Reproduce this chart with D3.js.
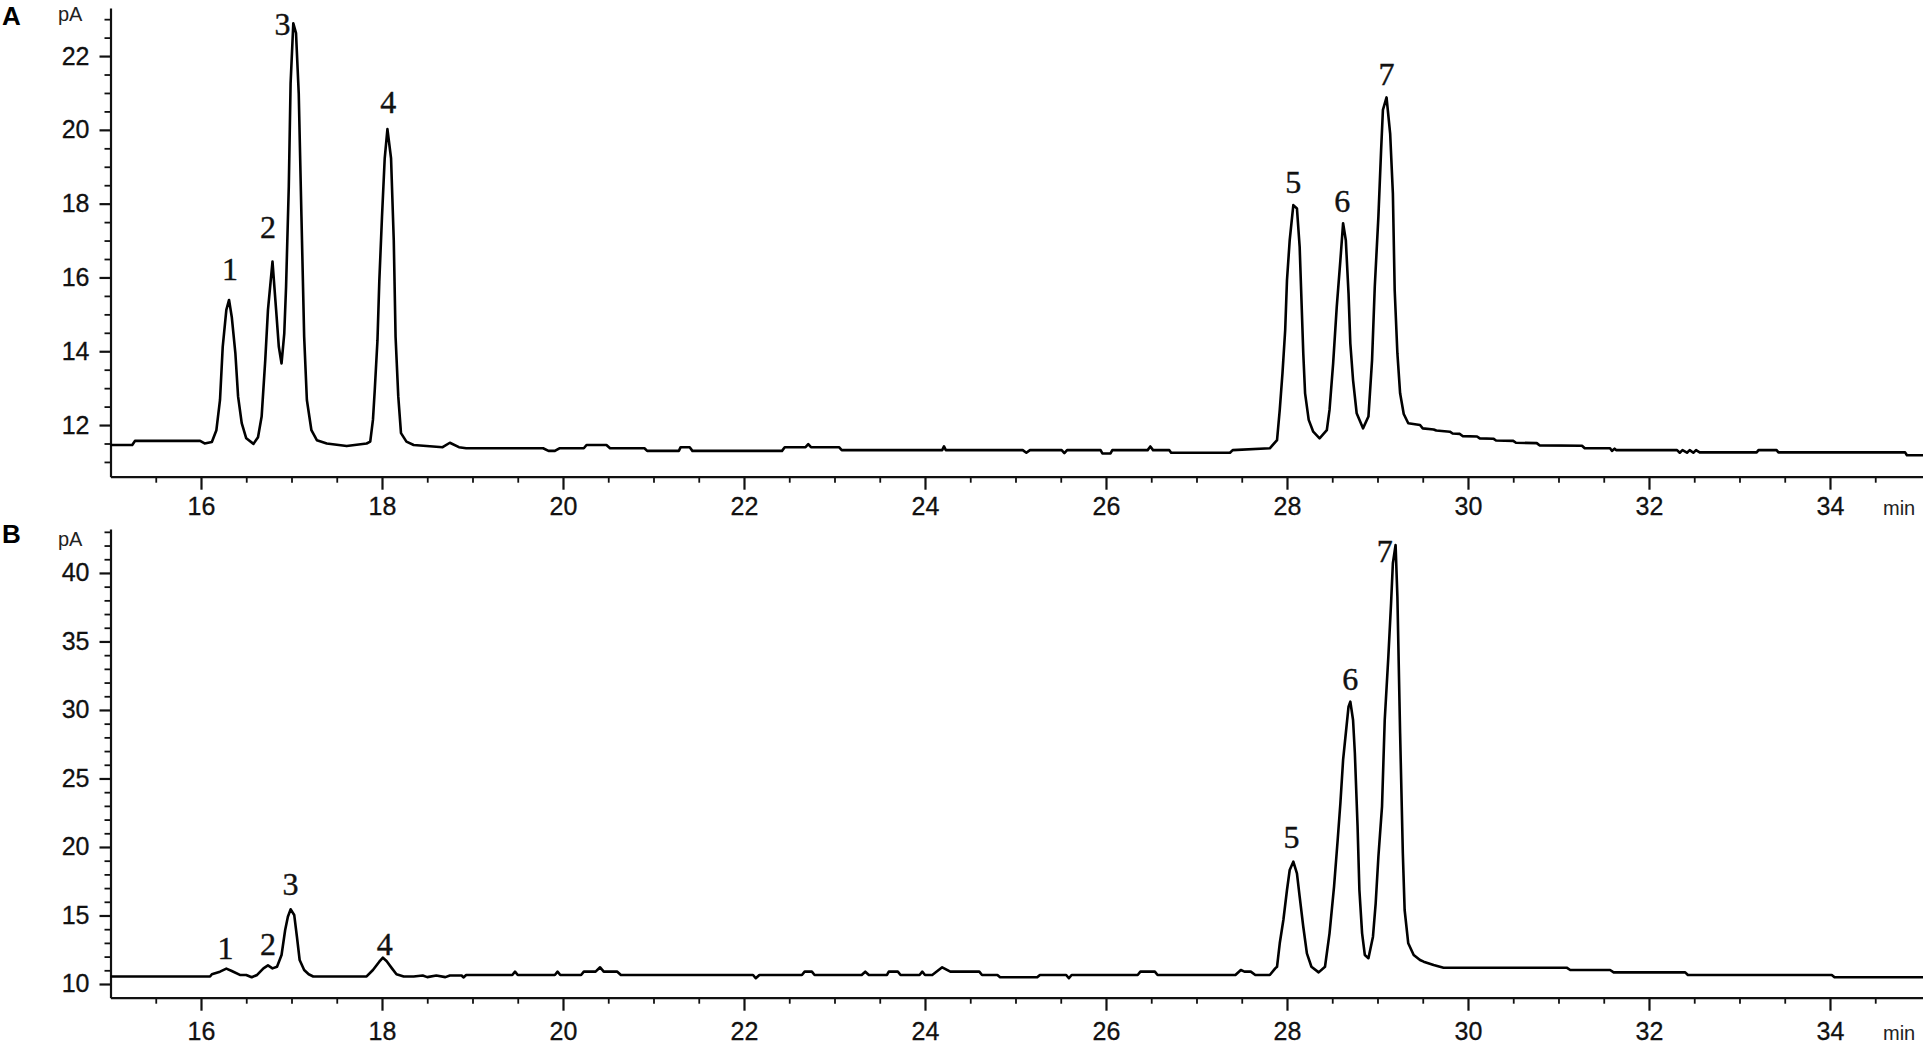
<!DOCTYPE html>
<html><head><meta charset="utf-8">
<script src="https://cdn.jsdelivr.net/npm/d3@7"></script>
<style>body{margin:0;background:#fff;} svg{display:block;background:#fff}</style>
</head><body>
<script>
// ---------- DATA ----------
const timesA = [15.00,15.24,15.27,15.99,16.04,16.12,16.17,16.21,16.24,16.28,16.31,16.34,16.38,16.41,16.45,16.50,16.58,16.63,16.67,16.71,16.74,16.79,16.83,16.86,16.89,16.92,16.94,16.97,16.99,17.02,17.05,17.08,17.11,17.14,17.17,17.22,17.28,17.39,17.61,17.83,17.87,17.90,17.92,17.95,17.97,18.00,18.03,18.06,18.10,18.13,18.15,18.18,18.21,18.27,18.35,18.67,18.75,18.85,18.93,19.78,19.84,19.91,19.96,20.23,20.26,20.48,20.52,20.90,20.93,21.28,21.30,21.40,21.43,22.42,22.45,22.68,22.71,22.74,23.05,23.08,24.19,24.21,24.23,25.08,25.12,25.16,25.51,25.54,25.57,25.94,25.96,26.05,26.07,26.46,26.49,26.52,26.70,26.72,27.37,27.40,27.81,27.89,27.92,27.95,27.98,28.00,28.03,28.07,28.11,28.14,28.16,28.18,28.20,28.24,28.29,28.36,28.44,28.47,28.51,28.55,28.59,28.62,28.65,28.68,28.70,28.73,28.77,28.84,28.90,28.94,28.97,29.01,29.04,29.06,29.10,29.14,29.17,29.19,29.22,29.25,29.29,29.34,29.47,29.50,29.62,29.65,29.80,29.83,29.91,29.94,30.10,30.13,30.28,30.31,30.50,30.53,30.76,30.79,31.26,31.29,31.57,31.59,31.62,31.64,32.31,32.34,32.37,32.42,32.45,32.49,32.52,32.56,33.19,33.21,33.41,33.43,34.83,34.85,35.03];
const signalA = [11.46,11.46,11.57,11.57,11.50,11.54,11.86,12.68,14.12,15.12,15.39,14.93,13.94,12.77,12.05,11.64,11.49,11.67,12.23,13.76,15.12,16.43,15.12,14.12,13.67,14.48,15.75,18.46,21.26,22.89,22.62,20.99,17.65,14.39,12.68,11.86,11.59,11.50,11.43,11.50,11.55,12.14,12.95,14.30,15.88,17.65,19.23,20.02,19.23,17.01,14.39,12.77,11.78,11.55,11.46,11.40,11.52,11.40,11.37,11.37,11.30,11.30,11.37,11.37,11.46,11.46,11.37,11.37,11.30,11.30,11.40,11.40,11.30,11.30,11.40,11.40,11.48,11.40,11.40,11.32,11.32,11.42,11.32,11.32,11.25,11.32,11.32,11.24,11.32,11.32,11.23,11.23,11.32,11.32,11.42,11.32,11.32,11.25,11.25,11.32,11.37,11.59,12.41,13.40,14.57,15.93,17.01,17.96,17.87,16.83,15.39,13.94,12.86,12.14,11.82,11.64,11.86,12.41,13.67,15.21,16.47,17.47,17.01,15.57,14.21,13.22,12.32,11.91,12.23,13.76,15.75,17.65,19.45,20.54,20.88,19.90,18.28,15.66,13.94,12.86,12.30,12.05,12.00,11.91,11.88,11.85,11.82,11.77,11.76,11.70,11.69,11.64,11.63,11.58,11.57,11.52,11.51,11.45,11.44,11.37,11.37,11.30,11.36,11.32,11.32,11.25,11.32,11.25,11.32,11.25,11.32,11.26,11.26,11.32,11.32,11.26,11.26,11.18,11.18];

const timesB = [15.00,16.10,16.12,16.21,16.28,16.34,16.43,16.50,16.56,16.62,16.69,16.74,16.79,16.84,16.89,16.93,16.96,16.99,17.03,17.06,17.09,17.14,17.19,17.24,17.83,17.90,17.97,18.01,18.05,18.11,18.16,18.24,18.35,18.45,18.50,18.60,18.70,18.75,18.88,18.90,18.93,19.44,19.47,19.50,19.91,19.94,19.97,20.20,20.23,20.36,20.41,20.45,20.60,20.64,22.10,22.13,22.17,22.64,22.67,22.75,22.78,23.30,23.34,23.38,23.58,23.60,23.70,23.73,23.94,23.97,24.00,24.08,24.19,24.28,24.60,24.63,24.80,24.83,25.24,25.27,25.56,25.59,25.62,26.35,26.38,26.54,26.57,27.43,27.49,27.53,27.60,27.65,27.81,27.87,27.89,27.92,27.96,28.00,28.03,28.07,28.11,28.14,28.18,28.22,28.27,28.35,28.42,28.47,28.52,28.56,28.59,28.62,28.65,28.68,28.70,28.73,28.75,28.78,28.80,28.83,28.86,28.90,28.95,28.98,29.01,29.05,29.08,29.12,29.15,29.17,29.20,29.22,29.25,29.28,29.30,29.34,29.40,29.47,29.51,29.62,29.73,31.09,31.13,31.57,31.61,32.40,32.43,34.02,34.05,35.03];
const signalB = [10.55,10.55,10.71,10.90,11.12,10.95,10.66,10.66,10.49,10.66,11.14,11.36,11.14,11.26,12.12,13.94,14.91,15.45,15.04,13.45,11.75,11.02,10.71,10.55,10.55,11.02,11.63,11.92,11.68,11.14,10.71,10.55,10.55,10.62,10.50,10.62,10.50,10.62,10.62,10.48,10.66,10.66,10.90,10.66,10.66,10.90,10.66,10.66,10.90,10.90,11.22,10.90,10.90,10.66,10.66,10.42,10.66,10.66,10.90,10.90,10.66,10.66,10.90,10.66,10.66,10.90,10.90,10.66,10.66,10.90,10.66,10.66,11.22,10.90,10.90,10.66,10.66,10.49,10.49,10.66,10.66,10.42,10.66,10.66,10.90,10.90,10.66,10.66,11.02,10.90,10.90,10.66,10.66,11.14,11.26,12.97,14.67,16.86,18.32,18.93,18.08,16.37,14.18,12.24,11.26,10.85,11.26,13.70,17.10,20.51,23.19,26.35,28.30,30.24,30.61,29.27,26.84,21.48,16.86,13.70,12.12,11.88,13.45,15.89,19.29,22.94,29.27,33.89,37.79,40.71,42.04,38.27,28.30,19.54,15.40,12.97,12.12,11.75,11.63,11.39,11.19,11.19,11.02,11.02,10.85,10.85,10.66,10.66,10.49,10.49];

const peakNames = ["1","2","3","4","5","6","7"];
const labelTimesA = [16.32,16.74,16.90,18.07,28.07,28.61,29.10];
const labelLevelsA = [15.93,17.07,22.57,20.46,18.29,17.77,21.21];
const labelTimesB = [16.27,16.74,16.99,18.03,28.05,28.70,29.08];
const labelLevelsB = [11.82,12.12,16.50,12.12,19.91,31.46,40.82];

const xTickLabels = [16,18,20,22,24,26,28,30,32,34];
const yTicksA = [12,14,16,18,20,22];
const yTicksB = [10,15,20,25,30,35,40];

// ---------- DRAWING ----------
const W = 1923, H = 1046;
const svg = d3.select("body").append("svg").attr("width", W).attr("height", H);
svg.append("rect").attr("width", W).attr("height", H).attr("fill", "#fff");

const x = d3.scaleLinear().domain([15, 35.03]).range([110.5, 1923.2]);
const xMinor = d3.range(15.5, 35, 0.5).filter(t => !xTickLabels.includes(t));

function panel(cfg) {
  const y = d3.scaleLinear().domain(cfg.yDomain).range(cfg.yRange);
  const g = svg.append("g");
  const y0 = cfg.yRange[0];

  g.append("g").attr("transform", `translate(${x(15)},0)`)
    .call(d3.axisLeft(y).tickValues(cfg.yMinor).tickSize(6).tickSizeOuter(0).tickFormat(""))
    .call(a => a.select(".domain").remove())
    .call(a => a.selectAll("line").attr("stroke", "#111").attr("stroke-width", 1.8));
  g.append("g").attr("transform", `translate(${x(15)},0)`)
    .call(d3.axisLeft(y).tickValues(cfg.yTicks).tickSize(11).tickSizeOuter(0).tickPadding(10))
    .call(a => a.select(".domain").attr("stroke", "#111").attr("stroke-width", 2.2))
    .call(a => a.selectAll("line").attr("stroke", "#111").attr("stroke-width", 2.2))
    .call(a => a.selectAll("text").attr("font-family", "'Liberation Sans', Arial, sans-serif")
      .attr("font-size", 25).attr("fill", "#111").attr("stroke", "#111").attr("stroke-width", 0.3));

  g.append("g").attr("transform", `translate(0,${y0})`)
    .call(d3.axisBottom(x).tickValues(xMinor).tickSize(6).tickSizeOuter(0).tickFormat(""))
    .call(a => a.select(".domain").remove())
    .call(a => a.selectAll("line").attr("stroke", "#111").attr("stroke-width", 1.8));
  g.append("g").attr("transform", `translate(0,${y0})`)
    .call(d3.axisBottom(x).tickValues(xTickLabels).tickSize(13).tickSizeOuter(0).tickPadding(cfg.xPad))
    .call(a => a.select(".domain").attr("stroke", "#111").attr("stroke-width", 2.2))
    .call(a => a.selectAll("line").attr("stroke", "#111").attr("stroke-width", 2.2))
    .call(a => a.selectAll("text").attr("font-family", "'Liberation Sans', Arial, sans-serif")
      .attr("font-size", 25).attr("fill", "#111").attr("stroke", "#111").attr("stroke-width", 0.3));

  const pts = cfg.times.map((t, i) => [t, cfg.values[i]]);
  g.append("path").datum(pts)
    .attr("fill", "none").attr("stroke", "#000").attr("stroke-width", 2.6)
    .attr("stroke-linejoin", "round")
    .attr("d", d3.line().x(d => x(d[0])).y(d => y(d[1])).curve(d3.curveLinear));

  g.selectAll("text.peak").data(peakNames).enter().append("text")
    .attr("class", "peak")
    .attr("x", (d, i) => x(cfg.labelT[i])).attr("y", (d, i) => y(cfg.labelV[i]))
    .attr("text-anchor", "middle")
    .attr("font-family", "'Liberation Serif', 'Times New Roman', serif")
    .attr("font-size", 32).attr("fill", "#111").attr("stroke", "#111").attr("stroke-width", 0.4)
    .text(d => d);

  g.append("text").attr("x", 58).attr("y", cfg.pAy)
    .attr("font-family", "'Liberation Sans', Arial, sans-serif").attr("font-size", 20)
    .attr("fill", "#222").text("pA");
  g.append("text").attr("x", 1883).attr("y", cfg.minY)
    .attr("font-family", "'Liberation Sans', Arial, sans-serif").attr("font-size", 20)
    .attr("fill", "#222").text("min");
  g.append("text").attr("x", 2).attr("y", cfg.letterY)
    .attr("font-family", "'Liberation Sans', Arial, sans-serif").attr("font-weight", "bold")
    .attr("font-size", 26).attr("fill", "#000").text(cfg.letter);
}

panel({
  yDomain: [10.6, 23.3], yRange: [476.7, 8.1],
  yTicks: yTicksA, yMinor: d3.range(11, 23.01, 0.5).filter(v => !yTicksA.includes(v)),
  times: timesA, values: signalA, labelT: labelTimesA, labelV: labelLevelsA,
  xPad: 8, pAy: 21, minY: 515, letter: "A", letterY: 25
});
panel({
  yDomain: [9, 43.2], yRange: [997.7, 529.1],
  yTicks: yTicksB, yMinor: d3.range(11, 43.01, 1).filter(v => !yTicksB.includes(v)),
  times: timesB, values: signalB, labelT: labelTimesB, labelV: labelLevelsB,
  xPad: 12, pAy: 546, minY: 1040, letter: "B", letterY: 543
});
</script>
</body></html>
